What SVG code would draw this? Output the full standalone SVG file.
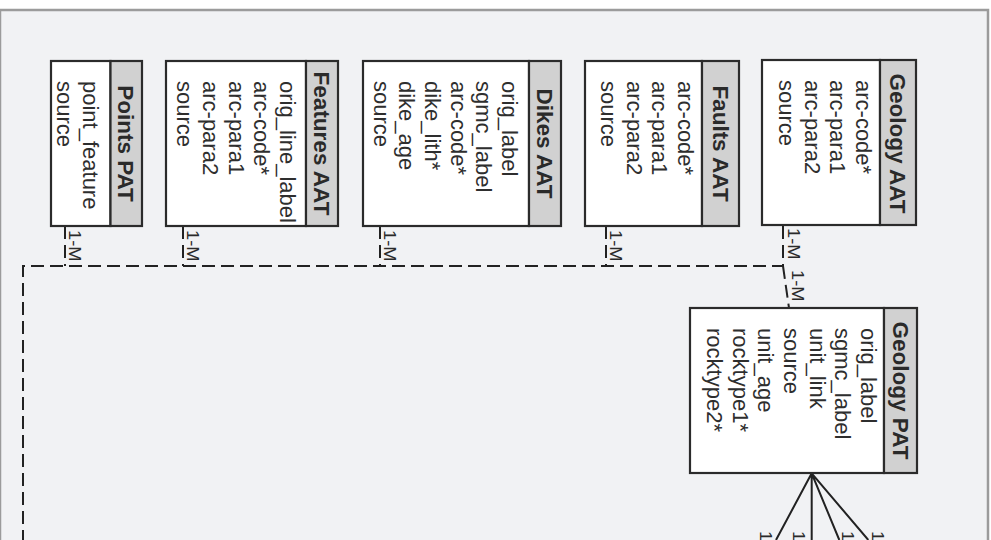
<svg xmlns="http://www.w3.org/2000/svg" width="991" height="540" viewBox="0 0 991 540">
<style>
.frame{fill:#f1f2f4;stroke:#9b9b9b;stroke-width:2.5}
.hdr{fill:#d1d1d1;stroke:#2b2b2b;stroke-width:2.2}
.body{fill:#ffffff;stroke:#2b2b2b;stroke-width:2.2}
.ttl{font-family:"Liberation Sans",Arial,sans-serif;font-weight:bold;font-size:22.5px;fill:#2a2a2a;text-anchor:middle}
.fld{font-family:"Liberation Sans",Arial,sans-serif;font-size:22px;fill:#2e2e2e}
.lbl{font-family:"Liberation Sans",Arial,sans-serif;font-size:16px;fill:#2a2a2a}
.dash{fill:none;stroke:#222;stroke-width:2;stroke-dasharray:13 6}
.solid{fill:none;stroke:#222;stroke-width:2}
</style>
<rect width="991" height="540" fill="#ffffff"/>
<rect class="frame" x="0" y="10" width="988" height="540"/>

<g id="connectors">
<path class="dash" d="M783,226 V266 H23 V540"/>
<path class="dash" d="M65,226 V266"/>
<path class="dash" d="M183,226 V266"/>
<path class="dash" d="M380,226 V266"/>
<path class="dash" d="M606,226 V266"/>
<path class="dash" d="M783,266 L789,308"/>
<path class="solid" d="M811.7,473.3 L776,540 M811.7,473.3 V540 M811.7,473.3 L839.3,540 M811.7,473.3 L868.3,540"/>
<text class="lbl" transform="translate(69,230) rotate(90) scale(1.15,1)">1-M</text>
<text class="lbl" transform="translate(187,230) rotate(90) scale(1.15,1)">1-M</text>
<text class="lbl" transform="translate(384,230) rotate(90) scale(1.15,1)">1-M</text>
<text class="lbl" transform="translate(610,230) rotate(90) scale(1.15,1)">1-M</text>
<text class="lbl" transform="translate(788,228) rotate(90) scale(1.15,1)">1-M</text>
<text class="lbl" transform="translate(792,270) rotate(90) scale(1.15,1)">1-M</text>
<text class="lbl" transform="translate(760,531) rotate(90) scale(1.15,1)">1</text>
<text class="lbl" transform="translate(793,531) rotate(90) scale(1.15,1)">1</text>
<text class="lbl" transform="translate(842,531) rotate(90) scale(1.15,1)">1</text>
<text class="lbl" transform="translate(872,531) rotate(90) scale(1.15,1)">1</text>
</g>

<g id="points_pat" transform="translate(142,61) rotate(90)">
<rect class="body" x="0" y="31.5" width="165" height="59.5"/>
<rect class="hdr" x="0" y="0" width="165" height="31.5"/>
<text class="ttl" x="82.5" y="24">Points PAT</text>
<text class="fld" x="20" y="59">point_feature</text>
<text class="fld" x="20" y="84.7">source</text>
</g>

<g id="features_aat" transform="translate(338,61) rotate(90)">
<rect class="body" x="0" y="32" width="165" height="140"/>
<rect class="hdr" x="0" y="0" width="165" height="32"/>
<text class="ttl" x="82.5" y="24">Features AAT</text>
<text class="fld" x="20" y="58">orig_line_label</text>
<text class="fld" x="20" y="83.7">arc-code*</text>
<text class="fld" x="20" y="109.4">arc-para1</text>
<text class="fld" x="20" y="135.1">arc-para2</text>
<text class="fld" x="20" y="160.8">source</text>
</g>

<g id="dikes_aat" transform="translate(561,61) rotate(90)">
<rect class="body" x="0" y="32" width="165" height="166"/>
<rect class="hdr" x="0" y="0" width="165" height="32"/>
<text class="ttl" x="82.5" y="24">Dikes AAT</text>
<text class="fld" x="20" y="59">orig_label</text>
<text class="fld" x="20" y="84.7">sgmc_label</text>
<text class="fld" x="20" y="110.4">arc-code*</text>
<text class="fld" x="20" y="136.1">dike_lith*</text>
<text class="fld" x="20" y="161.8">dike_age</text>
<text class="fld" x="20" y="187.5">source</text>
</g>

<g id="faults_aat" transform="translate(739,61) rotate(90)">
<rect class="body" x="0" y="37" width="165" height="117"/>
<rect class="hdr" x="0" y="0" width="165" height="37"/>
<text class="ttl" x="82.5" y="26.5">Faults AAT</text>
<text class="fld" x="20" y="61">arc-code*</text>
<text class="fld" x="20" y="86.7">arc-para1</text>
<text class="fld" x="20" y="112.4">arc-para2</text>
<text class="fld" x="20" y="138.1">source</text>
</g>

<g id="geology_aat" transform="translate(916,60) rotate(90)">
<rect class="body" x="0" y="36" width="165" height="118"/>
<rect class="hdr" x="0" y="0" width="165" height="36"/>
<text class="ttl" x="83.5" y="26">Geology AAT</text>
<text class="fld" x="20" y="60">arc-code*</text>
<text class="fld" x="20" y="85.7">arc-para1</text>
<text class="fld" x="20" y="111.4">arc-para2</text>
<text class="fld" x="20" y="137.1">source</text>
</g>

<g id="geology_pat" transform="translate(917,308) rotate(90)">
<rect class="body" x="0" y="33" width="165" height="194"/>
<rect class="hdr" x="0" y="0" width="165" height="33"/>
<text class="ttl" x="82.5" y="24.5">Geology PAT</text>
<text class="fld" x="20" y="56">orig_label</text>
<text class="fld" x="20" y="81.7">sgmc_label</text>
<text class="fld" x="20" y="107.4">unit_link</text>
<text class="fld" x="20" y="133.1">source</text>
<text class="fld" x="20" y="158.8">unit_age</text>
<text class="fld" x="20" y="184.5">rocktype1*</text>
<text class="fld" x="20" y="210.2">rocktype2*</text>
</g>
</svg>
